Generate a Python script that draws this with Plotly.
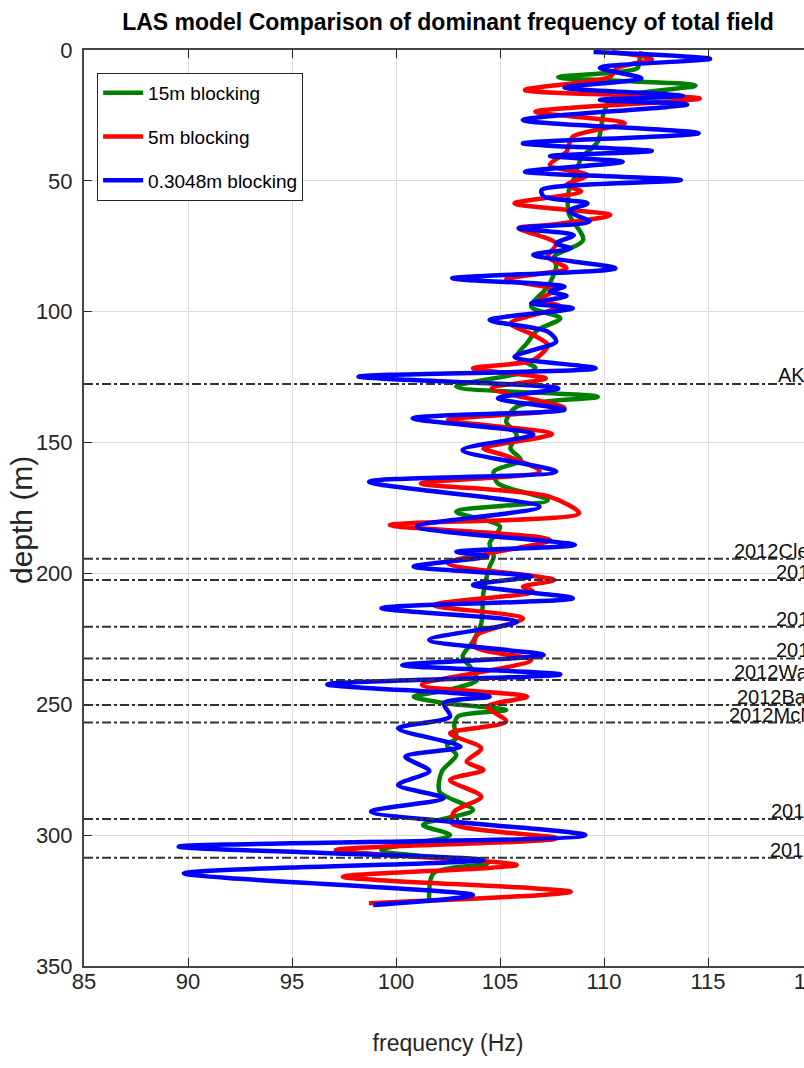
import plotly.graph_objects as go

# ---- depth (m) / dominant frequency (Hz) samples for each blocking size ----
depth_15m = [0.5, 4, 7.0, 10.4, 13.6, 18.5, 23.6, 35, 41.4, 48.4, 54.1, 62.4, 72.6, 79, 82.8,
             90.4, 98, 102.5, 107, 112, 117.2, 121.6, 128.6, 132.5, 136.3, 142, 147.1, 152.2,
             156.7, 161.1, 165.6, 172, 176.4, 182.1, 188.5, 193.6, 197.4, 207.6, 219.1, 226,
             231.8, 236, 240.7, 244.5, 247.1, 249.5, 252.2, 254.5, 258, 263, 265.6, 269.4,
             275.7, 283.4, 290.4, 296.1, 300, 305.7, 310.8, 314.6, 326]
freq_15m = [111.8, 111.7, 111.6, 107.8, 114.4, 110.4, 110.0, 109.7, 108.9, 108.6, 108.3, 108.3,
            109.0, 107.6, 107.7, 107.3, 106.5, 107.9, 106.8, 106.3, 105.8, 106.7, 102.9, 109.7,
            105.8, 105.3, 105.8, 105.5, 106.0, 104.7, 104.9, 107.3, 102.9, 105.0, 104.5, 104.7,
            104.5, 104.2, 104.1, 103.7, 103.2, 103.6, 103.9, 102.5, 100.85, 102.3, 105.3, 103.0,
            102.8, 102.9, 102.45, 102.9, 102.2, 102.1, 103.7, 101.3, 102.6, 99.3, 104.4, 101.8,
            101.6]

depth_5m = [0.8, 3.5, 7, 10.2, 15.3, 18.5, 23.6, 28, 33.1, 38.8, 44, 47.8, 51.6, 54.1, 58.6,
            63.05, 66.9, 68.1, 73.9, 79, 83.4, 87.6, 91.7, 95.5, 98, 104.4, 108.9, 112.7, 118.5,
            121.6, 125.5, 129.3, 136.9, 141.4, 146.7, 152.2, 154.8, 161.1, 165.6, 170.5, 177.0,
            181.5, 187.2, 196.1, 202.5, 205.1, 207, 212.1, 217.2, 223.5, 228, 233.1, 242.6,
            247.1, 250.9, 256.6, 261.1, 266.8, 271.9, 275.1, 278.9, 285.3, 291, 295.5, 301.2,
            305.7, 311.4, 315.9, 321.6, 326]
freq_5m = [110.4, 112.3, 110.6, 110.3, 106.2, 114.6, 106.7, 111.0, 108.5, 108.2, 107.4, 109.2,
           108.2, 108.9, 105.7, 110.3, 107.3, 105.9, 107.7, 107.3, 108.2, 105.3, 107.6, 106.9,
           107.9, 105.5, 106.6, 107.3, 106.6, 103.7, 107.2, 104.6, 108.1, 102.5, 107.5, 104.2,
           105.2, 106.9, 101.2, 107.3, 108.8, 99.7, 107.4, 102.5, 107.6, 106.1, 106.6, 101.8,
           106.1, 103.9, 103.8, 106.5, 101.25, 106.3, 104.4, 105.3, 102.6, 104.1, 103.4, 104.2,
           102.6, 104.1, 102.8, 102.7, 107.7, 97.1, 105.8, 97.45, 108.4, 98.7]

depth_03m = [0.8, 3.4, 6.8, 10.8, 14.4, 17.5, 19.1, 20.8, 26.75, 31.8, 35.7, 38.6, 40.5, 42.7,
             46.5, 49.7, 53.5, 56, 58.6, 61.5, 65.6, 68.1, 70.7, 73.9, 75.8, 78.3, 83.4, 87.25,
             90.4, 92.3, 94.0, 96.8, 98.7, 103.2, 107.6, 111.4, 117.2, 121.6, 124.8, 129.3,
             133.1, 137.5, 140.7, 146.9, 152.8, 161.1, 165.0, 174.5, 182.1, 189.1, 191.7, 193.5,
             197.4, 201.2, 204.4, 209.5, 213.3, 218.5, 225.4, 231.2, 235, 238.6, 242.4, 247.1,
             249.6, 254.7, 259.2, 266.2, 270, 275.5, 280.8, 285.9, 291, 300, 304.4, 309.5,
             314.6, 322.9, 326.7]
freq_03m = [109.5, 115.1, 109.8, 111.8, 108.1, 113.8, 109.8, 114.0, 106.1, 114.55, 106.1, 112.3,
            107.4, 110.9, 106.2, 113.7, 107.0, 107.1, 109.2, 108.3, 109.3, 105.9, 108.55, 107.7,
            108.4, 106.6, 110.55, 102.7, 108.1, 107.4, 108.2, 106.5, 108.5, 104.5, 107.3, 107.7,
            105.7, 109.6, 98.2, 107.8, 104.9, 108.1, 100.8, 106.6, 103.2, 107.7, 98.7, 106.9,
            101.0, 108.6, 102.9, 104.4, 100.85, 106.5, 103.7, 108.5, 99.3, 105.8, 101.6, 107.1,
            100.3, 107.9, 96.7, 104.5, 102.3, 102.6, 100.1, 103.1, 100.45, 101.6, 100.1, 102.3,
            98.8, 109.1, 89.55, 104.2, 89.8, 103.7, 98.9]

# ---- formation tops (depth, label, label start frequency) ----
top_depths = [127.6, 194.4, 202.5, 220.4, 232.5, 240.7, 250.3, 257.0, 293.8, 308.6]
top_names = ["AKA_GrandRapids", "2012Clearwater", "2012ClearwaterB", "2012ClearwaterC",
             "2012ClearwaterD", "2012Wabiskaw", "2012BaseWabiskaw", "2012McMurray",
             "2012McMurrayB", "2012Devonian"]
top_label_x = [118.27, 116.16, 118.19, 118.19, 118.19, 116.16, 116.32, 115.92, 117.95, 117.9]

series_names = ["15m blocking", "5m blocking", "0.3048m blocking"]
series_colors = ["#008000", "#ff0000", "#0000ff"]

FONT = "Liberation Sans, Arial, Helvetica, sans-serif"
INK = "#262626"

fig = go.Figure()
for name, color, d, f in zip(series_names, series_colors,
                             [depth_15m, depth_5m, depth_03m],
                             [freq_15m, freq_5m, freq_03m]):
    fig.add_trace(go.Scatter(
        x=f, y=d, mode="lines", name=name, legendgroup=name,
        line=dict(color=color, width=4.5, shape="spline", smoothing=0.8),
    ))

for d, label, lx in zip(top_depths, top_names, top_label_x):
    fig.add_shape(type="line", xref="paper", x0=0, x1=1, yref="y", y0=d, y1=d,
                  line=dict(color="#333333", width=2, dash="dashdot"))
    fig.add_annotation(x=lx, y=d, xref="x", yref="y", text=label, showarrow=False,
                       xanchor="left", yanchor="bottom", yshift=-5,
                       font=dict(family=FONT, size=20, color="#111111"))

# rotated y-axis caption
fig.add_annotation(x=-0.085, y=0.487, xref="paper", yref="paper", text="depth (m)",
                   textangle=-90, showarrow=False, xanchor="center", yanchor="middle",
                   font=dict(family=FONT, size=30, color=INK))

fig.update_layout(
    width=850, height=1068,
    margin=dict(l=84, r=38, t=50, b=102),
    paper_bgcolor="white", plot_bgcolor="white",
    title=dict(text="<b>LAS model Comparison of dominant frequency of total field</b>",
               x=0.5, xref="paper", xanchor="center", y=0.979, yref="container",
               yanchor="middle", font=dict(family=FONT, size=23, color="#000000")),
    legend=dict(x=0.018, y=0.975, xanchor="left", yanchor="top", bgcolor="white",
                bordercolor=INK, borderwidth=1, traceorder="grouped", tracegroupgap=16,
                itemwidth=40, font=dict(family=FONT, size=19, color="#000000")),
    xaxis=dict(range=[85, 120], tickmode="linear", tick0=85, dtick=5,
               showgrid=True, gridcolor="#dcdcdc", gridwidth=1, zeroline=False,
               showline=True, linecolor="#444444", linewidth=2, mirror="ticks",
               ticks="inside", ticklen=8, tickcolor=INK, ticklabelstandoff=-5,
               tickfont=dict(family=FONT, size=22, color=INK),
               title=dict(text="frequency (Hz)", standoff=41,
                          font=dict(family=FONT, size=23, color=INK))),
    yaxis=dict(range=[350, 0], tickmode="linear", tick0=0, dtick=50,
               showgrid=True, gridcolor="#dcdcdc", gridwidth=1, zeroline=False,
               showline=True, linecolor="#444444", linewidth=2, mirror="ticks",
               ticks="inside", ticklen=8, tickcolor=INK, ticklabelstandoff=5,
               tickfont=dict(family=FONT, size=22, color=INK)),
)

fig.write_html("out.html")
